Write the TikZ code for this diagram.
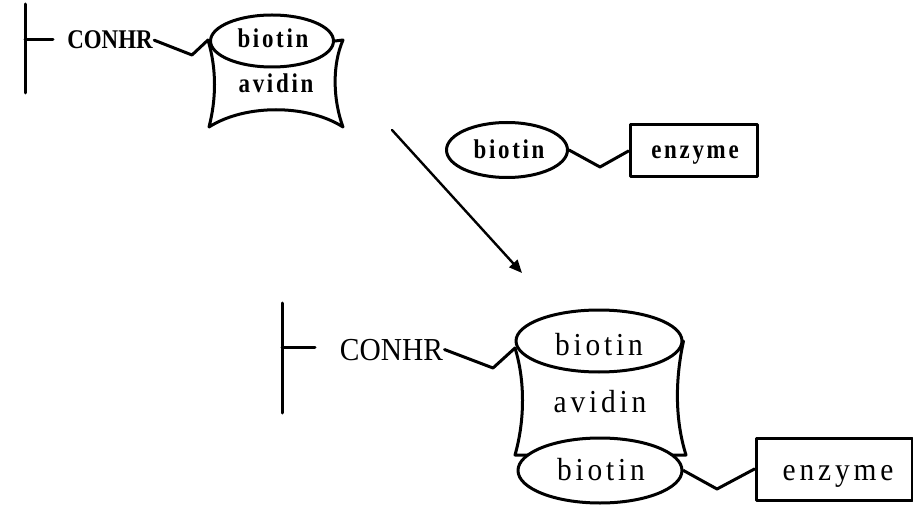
\documentclass[tikz,border=0pt]{standalone}
\usepackage{fontspec}
\setmainfont{Liberation Serif}
\newfontfamily\narrowfont[FakeStretch=0.85]{Liberation Serif}
\newfontfamily\spacedfont[FakeStretch=0.85, LetterSpace=10]{Liberation Serif}
\newfontfamily\widecaps[FakeStretch=0.92]{Liberation Serif}
\newfontfamily\widefont[FakeStretch=0.92, LetterSpace=12]{Liberation Serif}
\usetikzlibrary{arrows.meta,shapes.geometric}

\begin{document}
\begin{tikzpicture}[x=1pt,y=-1pt,
  line width=3pt, line join=round, line cap=round,
  smword/.style={font=\fontsize{27}{27}\spacedfont\bfseries, inner sep=0pt, anchor=base},
  smcaps/.style={font=\fontsize{27}{27}\narrowfont\bfseries, inner sep=0pt, anchor=base},
  lgword/.style={font=\fontsize{32}{32}\widefont, inner sep=0pt, anchor=base},
  lgcaps/.style={font=\fontsize{32}{32}\widecaps, inner sep=0pt, anchor=base},
  shell/.style={draw, ellipse, inner sep=0pt},
  boxed/.style={draw, rectangle, inner sep=0pt},
  reaction/.style={line width=2.4pt, -{Triangle[length=13pt,width=11pt]}}
]
\useasboundingbox (0,0) rectangle (913,505);

% ---- support with biotinylated avidin ----
\coordinate (supAt) at (25,4);
\coordinate (supAb) at (25,93);
\coordinate (supAm) at (25,40);
\coordinate (supAtick) at (53,40);
\draw (supAt) -- (supAb);
\draw (supAm) -- (supAtick);
\node[smcaps] (conhrA) at (110,49) {CONHR};

\node[shell, minimum width=123pt, minimum height=52pt] (ellA) at (272,41) {};
\node[smword] (bioA) at (273,48) {biotin};
\node[smword] (avA) at (276,93) {avidin};

\coordinate (avA-nw) at (208,40);
\coordinate (avA-sw) at (209,127);
\coordinate (avA-se) at (343,127);
\coordinate (avA-ne) at (343,40);
\draw (avA-nw) .. controls (217,70) and (216,100) .. (avA-sw)
      .. controls (245,104) and (307,104) .. (avA-se)
      .. controls (333,100) and (332,65) .. (avA-ne) -- (ellA.east);
\coordinate (zigA) at (192,55);
\draw (conhrA.east) -- (zigA) -- (avA-nw);

% ---- reaction arrow ----
\coordinate (arrS) at (392,130);
\coordinate (arrE) at (522,273);
\draw[reaction] (arrS) -- (arrE);

% ---- biotinylated enzyme ----
\node[shell, minimum width=121pt, minimum height=55pt] (ellB) at (507,150) {};
\node[smword] (bioB) at (509,159) {biotin};
\node[boxed, minimum width=127pt, minimum height=52pt] (encB) at (693.5,151) {};
\node[smword] (enzB) at (695,159) {enzyme};
\coordinate (zigB) at (600,167);
\draw (ellB.east) -- (zigB) -- (encB.west);

% ---- product: support-avidin-biotin-enzyme ----
\coordinate (supCt) at (282,303);
\coordinate (supCb) at (282,413);
\coordinate (supCm) at (282,347);
\coordinate (supCtick) at (315,347);
\draw (supCt) -- (supCb);
\draw (supCm) -- (supCtick);
\node[lgcaps] (conhrC) at (391.5,360) {CONHR};

\node[shell, minimum width=166pt, minimum height=62pt] (ellC) at (599,341) {};
\node[lgword] (bioC) at (599,355) {biotin};
\node[lgword] (avC) at (600,412) {avidin};
\node[shell, minimum width=164pt, minimum height=65pt] (ellD) at (600,470.5) {};
\node[lgword] (bioD) at (601,480) {biotin};

\coordinate (avC-nw) at (515,348);
\coordinate (avC-sw) at (515,455);
\coordinate (avC-swin) at (528,455);
\coordinate (avC-se) at (686,455);
\coordinate (avC-sein) at (672,455);
\draw (avC-nw) .. controls (525,380) and (525,420) .. (avC-sw) -- (avC-swin);
\draw (ellC.east) .. controls (675,380) and (675,420) .. (avC-se) -- (avC-sein);
\coordinate (zigC) at (493,368);
\draw (conhrC.east) -- (zigC) -- (avC-nw);

\node[boxed, minimum width=156pt, minimum height=62pt] (encD) at (834,469) {};
\node[lgword] (enzD) at (838,480) {enzyme};
\coordinate (zigD) at (717,489);
\draw (ellD.east) -- (zigD) -- (encD.west);
\end{tikzpicture}
\end{document}
